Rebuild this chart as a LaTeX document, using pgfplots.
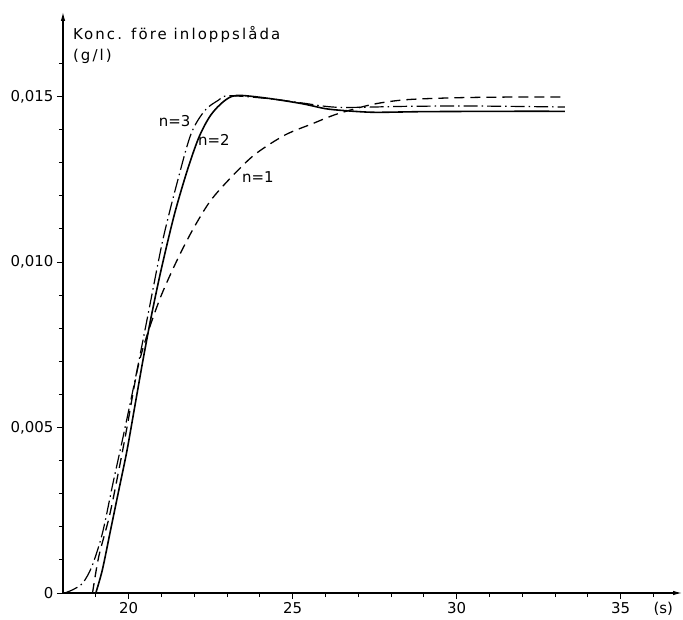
\documentclass[border=0pt]{standalone}
\usepackage{pgfplots}
\pgfplotsset{compat=1.18}
\usetikzlibrary{arrows.meta}
\usepackage{fontspec}
\setmainfont{DejaVu Sans}
\newfontfamily\lbl[LetterSpace=14]{DejaVu Sans}

\begin{document}
\begin{tikzpicture}[font=\fontsize{15}{17}\selectfont]
\path[use as bounding box] (-63bp,-27bp) rectangle (620bp,593bp);
\begin{axis}[
  at={(0,0)}, anchor=origin,
  scale only axis, width=619bp, height=581bp,
  xmin=18, xmax=36.87, ymin=0, ymax=0.01755,
  axis lines=left,
  axis line style={line width=1.1pt, -{Latex[length=9pt,width=4.5pt]}},
  xtick={20,25,30,35}, xticklabels={20,25,30,35},
  ytick={0,0.005,0.010,0.015}, yticklabels={0,{0,005},{0,010},{0,015}},
  minor xtick={19,21,22,23,24,26,27,28,29,31,32,33,34,36},
  minor ytick={0.001,0.002,0.003,0.004,0.006,0.007,0.008,0.009,0.011,0.012,0.013,0.014,0.016},
  tick align=outside,
  major tick length=6bp, minor tick length=4bp,
  tick style={black, line width=0.8pt},
  scaled y ticks=false,
  clip=false,
]
% n=2 (solid)
\addplot[black, line width=1.6pt, smooth, tension=0.5] coordinates {
(19.0,0) (19.2,0.0007) (19.45,0.0019) (19.7,0.0031) (19.95,0.0043) (20.2,0.0057)
(20.45,0.0071) (20.7,0.0084) (21.0,0.0098) (21.4,0.01145) (21.8,0.0128) (22.15,0.01378)
(22.5,0.01443) (22.9,0.01485) (23.3,0.01503) (24.27,0.01494) (25.29,0.01478) (26.0,0.01463)
(26.6,0.01457) (27.5,0.01452) (29,0.01454) (31.5,0.01455) (33.3,0.01455)
};
% n=3 (dash dot)
\addplot[black, line width=1.2pt, smooth, tension=0.5, dash pattern=on 14bp off 4bp on 1.5bp off 4bp] coordinates {
(18.05,0) (18.3,0.0001) (18.6,0.0003) (18.88,0.0008) (19.2,0.0018) (19.52,0.0033)
(19.85,0.0048) (20.23,0.0066) (20.61,0.0085) (21.04,0.01065) (21.47,0.01236) (21.9,0.01386)
(22.32,0.01457) (22.73,0.01488) (23.05,0.01502) (24.3,0.01493) (25.3,0.0148) (26.4,0.01467)
(28.46,0.0147) (30.5,0.01471) (33.3,0.01468)
};
% n=1 (dashed)
\addplot[black, line width=1.3pt, smooth, tension=0.5, dash pattern=on 10bp off 6bp] coordinates {
(18.9,0) (19.09,0.0011) (19.41,0.0023) (19.68,0.0036) (19.95,0.0050) (20.28,0.0068)
(20.6,0.0079) (21.0,0.0090) (21.5,0.0101) (21.97,0.0110) (22.49,0.01184)
(23.11,0.01254) (23.84,0.01324) (24.76,0.01383) (25.59,0.01417) (26.36,0.01447) (27.44,0.01476)
(28.46,0.0149) (30.0,0.01496) (31.58,0.01498) (33.3,0.01498)
};
\node[anchor=base west, inner sep=0] at (axis cs:18.3,0.01673) {\lbl Konc. före inloppslåda};
\node[anchor=base west, inner sep=0] at (axis cs:18.3,0.01607) {\lbl (g/l)};
\node at (axis cs:21.4,0.01427) {n=3};
\node at (axis cs:22.6,0.01368) {n=2};
\node at (axis cs:23.94,0.01255) {n=1};
\node[anchor=north, yshift=-6bp] at (axis cs:36.3,0) {(s)};
\end{axis}
\end{tikzpicture}
\end{document}
